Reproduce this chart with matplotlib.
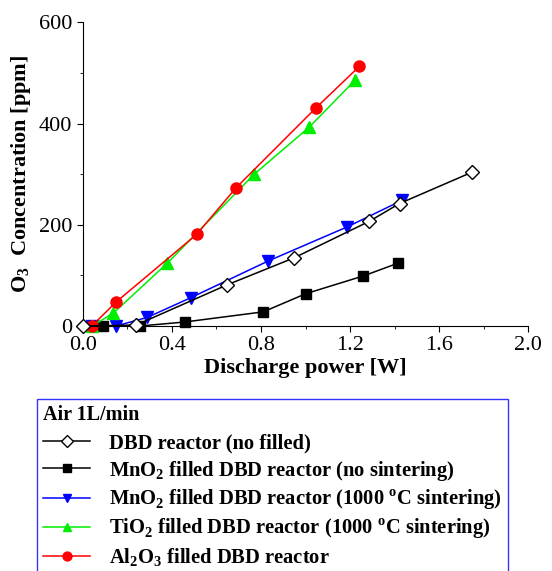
import matplotlib
matplotlib.use("Agg")
import matplotlib.pyplot as plt
from matplotlib.ticker import MultipleLocator

plt.rcParams['font.family'] = ['Liberation Serif', 'DejaVu Serif']
plt.rcParams['mathtext.fontset'] = 'custom'
plt.rcParams['mathtext.rm'] = 'Liberation Serif'
plt.rcParams['mathtext.bf'] = 'Liberation Serif:bold'

# DBD reactor (no filled)
x_dbd = [0.0, 0.24, 0.646, 0.95, 1.287, 1.422, 1.748]
y_dbd = [0, 2, 81, 135, 207, 242, 304]
# MnO2 filled (no sintering)
x_mno2 = [0.04, 0.09, 0.256, 0.458, 0.81, 1.002, 1.26, 1.414]
y_mno2 = [0, 0, 0, 8, 28, 64, 99, 124]
# MnO2 filled (1000 C sintering)
x_mno2s = [0.04, 0.148, 0.289, 0.485, 0.83, 1.188, 1.432]
y_mno2s = [0, 0, 17, 56, 128, 196, 248]
# TiO2 filled (1000 C sintering)
x_tio2 = [0.04, 0.136, 0.379, 0.77, 1.017, 1.221]
y_tio2 = [0, 25, 124, 300, 393, 485]
# Al2O3 filled
x_al2o3 = [0.04, 0.151, 0.511, 0.688, 1.047, 1.242]
y_al2o3 = [0, 48, 181, 273, 431, 513]

labels = [
    r'DBD reactor (no filled)',
    r'MnO$_\mathbf{2}$ filled DBD reactor (no sintering)',
    r'MnO$_\mathbf{2}$ filled DBD reactor (1000 $^\mathbf{o}$C sintering)',
    r'TiO$_\mathbf{2}$ filled DBD reactor (1000 $^\mathbf{o}$C sintering)',
    r'Al$_\mathbf{2}$O$_\mathbf{3}$ filled DBD reactor',
]

fig = plt.figure(figsize=(5.52, 5.71), dpi=100)
ax = fig.add_axes([0.150, 0.429, 0.807, 0.532])

h1, = ax.plot(x_dbd, y_dbd, color='black', lw=1.1, marker='D', ms=7.5, mfc='white',
              mec='black', clip_on=False, zorder=3)
h2, = ax.plot(x_mno2, y_mno2, color='black', lw=1.1, marker='s', ms=7, clip_on=False)
h3, = ax.plot(x_mno2s, y_mno2s, color='blue', lw=1.1, marker='v', ms=8, clip_on=False)
h4, = ax.plot(x_tio2, y_tio2, color='#00ee00', lw=1.1, marker='^', ms=8, clip_on=False)
h5, = ax.plot(x_al2o3, y_al2o3, color='red', lw=1.1, marker='o', ms=8, clip_on=False)

ax.set_xlim(0, 2.0)
ax.set_ylim(0, 600)
ax.xaxis.set_major_locator(MultipleLocator(0.4))
ax.xaxis.set_minor_locator(MultipleLocator(0.2))
ax.yaxis.set_major_locator(MultipleLocator(200))
ax.yaxis.set_minor_locator(MultipleLocator(100))
ax.xaxis.set_major_formatter(plt.FormatStrFormatter('%.1f'))
ax.tick_params(which='major', length=4, labelsize=16)
ax.tick_params(which='minor', length=2)
ax.spines['top'].set_visible(False)
ax.spines['right'].set_visible(False)

ax.set_xlabel('Discharge power [W]', fontsize=16, fontweight='bold', labelpad=2)
ax.set_ylabel(r'O$_\mathbf{3}$  Concentration [ppm]', fontsize=16, fontweight='bold', labelpad=4)

leg = fig.legend([h1, h2, h3, h4, h5], labels, loc='upper left',
                 bbox_to_anchor=(0.067, 0.301), borderaxespad=0,
                 title='Air 1L/min', alignment='left', fancybox=False,
                 edgecolor='blue',
                 prop={'weight': 'bold', 'size': 14.8},
                 title_fontproperties={'weight': 'bold', 'size': 14.5},
                 handlelength=2.3, labelspacing=0.24, borderpad=0.3,
                 handletextpad=0.9, markerscale=0.8)
leg.get_frame().set_linewidth(1.0)
leg._legend_box.sep = 6

fig.savefig('out.png', dpi=100)
